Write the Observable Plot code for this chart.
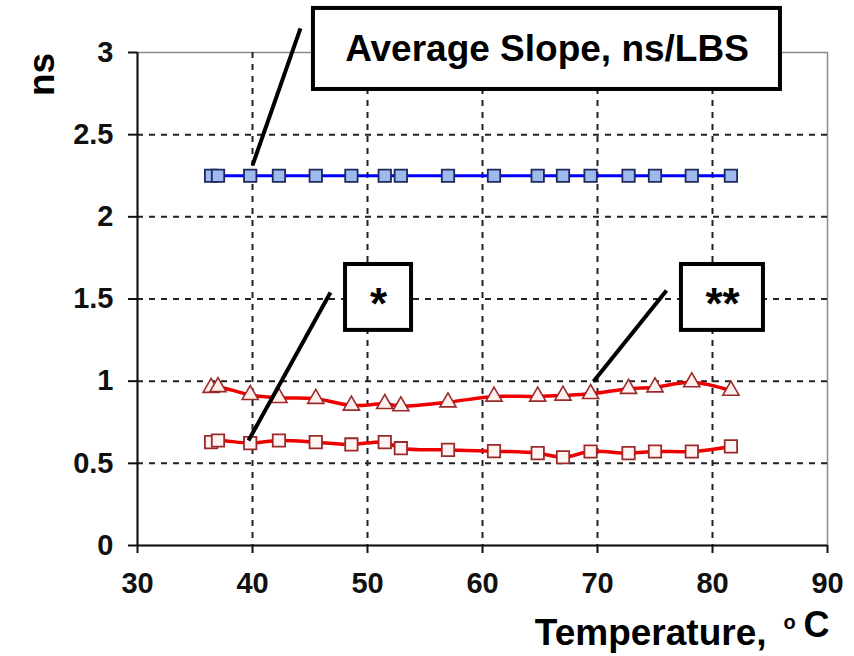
<!DOCTYPE html>
<html><head><meta charset="utf-8">
<script src="https://cdn.jsdelivr.net/npm/d3@7"></script>
<script src="https://cdn.jsdelivr.net/npm/@observablehq/plot@0.6"></script>
<style>body{margin:0;background:#fff}</style>
</head><body><div id="chart"></div>
<script>
// Temperature (°C) of each measurement
const temps = [36.4, 37.0, 39.8, 42.3, 45.5, 48.6, 51.5, 52.9, 57.0, 61.0, 64.8, 67.0, 69.4, 72.7, 75.0, 78.2, 81.6];
// Average slope, ns/LBS (blue)
const avgSlope = [2.25, 2.25, 2.25, 2.25, 2.25, 2.25, 2.25, 2.25, 2.25, 2.25, 2.25, 2.25, 2.25, 2.25, 2.25, 2.25, 2.25];
// "**" series (red, triangles)
const seriesDouble = [0.96, 0.965, 0.917, 0.899, 0.893, 0.852, 0.862, 0.848, 0.872, 0.907, 0.907, 0.913, 0.923, 0.954, 0.963, 0.994, 0.943];
// "*" series (red, squares)
const seriesSingle = [0.629, 0.639, 0.623, 0.639, 0.629, 0.615, 0.629, 0.592, 0.582, 0.574, 0.562, 0.537, 0.572, 0.562, 0.572, 0.572, 0.603];

const xTicks = [30, 40, 50, 60, 70, 80, 90];
const yTicks = [0, 0.5, 1, 1.5, 2, 2.5, 3];
const xGrid = [40, 50, 60, 70, 80];
const yGrid = [0.5, 1, 1.5, 2, 2.5];

// Annotation callouts (data units)
const annoLabels = ["Average Slope, ns/LBS", "*", "**"];
const annoX1 = [45.3, 48.09, 77.3];
const annoX2 = [85.91, 53.83, 84.43];
const annoY1 = [2.775, 1.309, 1.309];
const annoY2 = [3.268, 1.71, 1.71];
const annoTextX = [65.61, 50.96, 80.87];
const annoTextY = [3.022, 1.465, 1.465];
const annoSize = [37, 44, 44];
const leadX1 = [44.17, 46.78, 76.0];
const leadY1 = [3.147, 1.54, 1.552];
const leadX2 = [40.0, 39.65, 69.65];
const leadY2 = [2.313, 0.639, 0.998];

const rows = temps.map((t, i) => ({t, avg: avgSlope[i], dbl: seriesDouble[i], sgl: seriesSingle[i]}));
const anno = annoLabels.map((label, i) => ({
  label, x1: annoX1[i], x2: annoX2[i], y1: annoY1[i], y2: annoY2[i],
  tx: annoTextX[i], ty: annoTextY[i], size: annoSize[i],
  lx1: leadX1[i], ly1: leadY1[i], lx2: leadX2[i], ly2: leadY2[i]
}));

const font = "Liberation Sans, Arial, Helvetica, sans-serif";

const chart = Plot.plot({
  width: 854, height: 656,
  marginLeft: 137, marginRight: 27, marginTop: 52, marginBottom: 111,
  style: {fontFamily: font, background: "#fff", overflow: "visible"},
  x: {domain: [30, 90], ticks: xTicks},
  y: {domain: [0, 3], ticks: yTicks},
  marks: [
    Plot.frame({stroke: "#8a8a8a", strokeWidth: 1.5}),
    Plot.ruleX(xGrid, {stroke: "#222", strokeWidth: 2, strokeDasharray: "6,6"}),
    Plot.ruleY(yGrid, {stroke: "#222", strokeWidth: 2, strokeDasharray: "6,6"}),
    Plot.ruleX([30], {stroke: "#111", strokeWidth: 2}),
    Plot.ruleY([0], {stroke: "#111", strokeWidth: 2}),
    Plot.axisX(xTicks, {tickSize: 8, tickPadding: 19, fontSize: 29, fontWeight: "bold", label: null, stroke: "#111", strokeWidth: 2, fill: "#111", tickFormat: d => String(d)}),
    Plot.axisY(yTicks, {tickSize: 9, tickPadding: 15, fontSize: 29, fontWeight: "bold", label: null, stroke: "#111", strokeWidth: 2, fill: "#111", tickFormat: d => String(d)}),
    Plot.line(rows, {x: "t", y: "avg", stroke: "#0000ff", strokeWidth: 3}),
    Plot.line(rows, {x: "t", y: "dbl", stroke: "#ee0000", strokeWidth: 3.5, curve: "catmull-rom"}),
    Plot.line(rows, {x: "t", y: "sgl", stroke: "#ee0000", strokeWidth: 3.5, curve: "catmull-rom"}),
    Plot.dot(rows, {x: "t", y: "avg", symbol: "square", r: 7, fill: "#9fb8ee", stroke: "#1c2a5c", strokeWidth: 1.8}),
    Plot.dot(rows, {x: "t", y: "dbl", symbol: "triangle", r: 6, fill: "#fff0ee", stroke: "#9a2a2a", strokeWidth: 1.6}),
    Plot.dot(rows, {x: "t", y: "sgl", symbol: "square", r: 7, fill: "#fff4f2", stroke: "#9a2a2a", strokeWidth: 1.8}),
    Plot.link(anno, {x1: "lx1", y1: "ly1", x2: "lx2", y2: "ly2", stroke: "#000", strokeWidth: 4}),
    Plot.rect(anno, {x1: "x1", x2: "x2", y1: "y1", y2: "y2", fill: "#fff", stroke: "#000", strokeWidth: 4}),
    Plot.text(anno, {x: "tx", y: "ty", text: "label", fontSize: d => d.size, fontWeight: "bold", fill: "#000", textAnchor: "middle", lineAnchor: "middle"}),
    Plot.text(["ns"], {frameAnchor: "top-left", dx: -95, dy: 22, rotate: -90, fontSize: 37, fontWeight: "bold", fill: "#000", textAnchor: "middle", lineAnchor: "middle"}),
    Plot.text(["Temperature,"], {frameAnchor: "bottom-right", dx: -61, dy: 88, fontSize: 37, fontWeight: "bold", fill: "#000", textAnchor: "end", lineAnchor: "middle"}),
    Plot.text(["o"], {frameAnchor: "bottom-right", dx: -38, dy: 77, fontSize: 20, fontWeight: "bold", fill: "#000", textAnchor: "middle", lineAnchor: "middle"}),
    Plot.text(["C"], {frameAnchor: "bottom-right", dx: -11, dy: 80, fontSize: 36, fontWeight: "bold", fill: "#000", textAnchor: "middle", lineAnchor: "middle"})
  ]
});
document.getElementById("chart").appendChild(chart);
</script>
</body></html>
